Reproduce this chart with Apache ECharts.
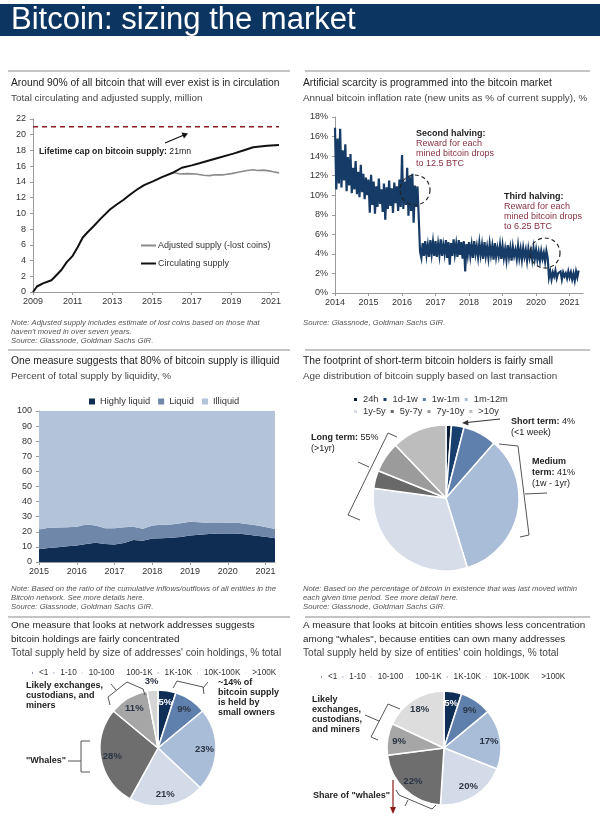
<!DOCTYPE html>
<html><head><meta charset="utf-8">
<script src="https://cdn.jsdelivr.net/npm/echarts@6/dist/echarts.min.js"></script>
<style>html,body{margin:0;padding:0;background:#fff}#c{width:600px;height:826px}</style>
</head><body><div id="c"></div>
<script>
// ---------- DATA ----------
const supplyYears = [2009, 2009.2, 2009.5, 2009.93, 2010.2, 2010.43, 2010.7, 2011, 2011.25, 2011.5, 2011.75, 2012.03, 2012.4, 2012.88, 2013.2, 2013.55, 2013.9, 2014.23, 2014.6, 2015.07, 2015.5, 2016.08, 2016.5, 2017, 2017.43, 2018.27, 2019.1, 2019.6, 2020.1, 2020.45, 2020.8, 2021.4];
const circulatingSupply = [0, 0.7, 1.1, 1.5, 2.2, 2.8, 3.8, 4.6, 5.7, 6.9, 7.6, 8.3, 9.3, 10.5, 11.1, 11.7, 12.4, 13.0, 13.6, 14.1, 14.6, 15.2, 15.8, 16.1, 16.4, 17.0, 17.6, 18.0, 18.4, 18.5, 18.6, 18.7];
const adjustedYears = [2016.08, 2016.4, 2016.8, 2017.2, 2017.6, 2017.9, 2018.2, 2018.6, 2019.0, 2019.4, 2019.8, 2020.1, 2020.3, 2020.6, 2020.9, 2021.1, 2021.4];
const adjustedSupply = [15.2, 15.0, 15.05, 15.0, 14.85, 14.8, 14.9, 14.9, 15.05, 15.25, 15.45, 15.55, 15.45, 15.5, 15.4, 15.3, 15.15];
const supplyCap = 21;
const supplyCapYears = [2009, 2021.4];

const inflationStartYear = 2014;
const inflationPointsPerYear = 26;
const inflationRate = [
  16.9,10.6,15.8,11.2,16.8,10.8,14.6,11.5,15.2,10.4,13.9,11.0,14.2,10.2,12.8,10.6,13.5,10.1,12.4,9.8,13.1,10.3,12.2,9.6,11.8,10.0,
  11.6,8.2,12.1,9.0,11.4,8.1,10.9,8.8,11.7,9.1,10.6,8.3,11.2,7.5,10.8,8.6,11.5,8.9,10.7,8.2,11.3,9.2,10.9,8.4,11.6,8.8,
  14.1,8.6,11.4,9.0,12.8,7.9,11.9,8.4,12.2,7.2,11.0,8.8,10.9,7.6,4.2,3.6,5.1,3.8,5.3,3.9,4.9,3.7,5.4,4.0,5.2,3.8,
  5.3,3.7,5.0,3.9,5.5,3.8,4.9,4.0,5.4,3.6,5.2,2.9,5.1,3.8,5.5,4.0,5.0,3.7,5.4,3.9,5.2,3.5,5.3,2.2,5.0,3.9,
  5.2,3.8,4.9,3.6,5.3,4.0,4.8,3.7,5.1,3.9,4.9,3.5,5.2,3.8,4.7,3.6,5.0,3.9,4.8,3.4,5.1,3.7,4.6,3.8,4.9,3.5,
  4.8,3.6,4.5,3.4,4.9,3.7,4.6,3.3,4.7,3.8,4.4,3.5,4.8,3.6,4.5,3.4,4.6,3.7,4.4,3.3,4.5,3.6,4.3,3.4,4.6,3.5,
  4.4,3.4,4.2,3.3,4.3,3.5,4.1,3.2,4.3,3.6,1.6,2.2,1.4,2.1,1.7,2.3,1.5,2.0,1.8,2.2,1.4,2.1,1.7,2.0,1.5,2.2,
  1.6,2.1,1.4,2.0,1.3,2.2,1.6,2.3
];

const liquidityYears = [2015, 2015.25, 2015.5, 2015.75, 2016, 2016.25, 2016.5, 2016.75, 2017, 2017.25, 2017.5, 2017.75, 2018, 2018.25, 2018.5, 2018.75, 2019, 2019.25, 2019.5, 2019.75, 2020, 2020.25, 2020.5, 2020.75, 2021, 2021.25];
const highlyLiquid = [8.5, 9.2, 9.8, 10.4, 10.9, 12.0, 12.7, 12.0, 11.6, 12.6, 14.6, 14.0, 15.6, 15.8, 16.0, 16.6, 17.6, 18.0, 18.6, 18.8, 18.9, 18.8, 18.2, 17.4, 16.8, 15.8];
const liquid = [13.1, 13.4, 13.0, 12.6, 12.5, 12.8, 11.5, 10.4, 10.7, 10.4, 8.8, 8.0, 8.6, 8.8, 8.8, 9.0, 9.0, 8.4, 7.3, 7.0, 7.1, 7.2, 7.0, 7.0, 6.4, 6.0];
const illiquid = [78.4, 77.4, 77.2, 77.0, 76.6, 75.2, 75.8, 77.6, 77.7, 77.0, 76.6, 78.0, 75.8, 75.4, 75.2, 74.4, 73.4, 73.6, 74.1, 74.2, 74.0, 74.0, 74.8, 75.6, 76.8, 78.2];

const ageLabels = ['24h', '1d-1w', '1w-1m', '1m-12m', '1y-5y', '5y-7y', '7y-10y', '>10y'];
const ageShares = [1.2, 2.8, 7.5, 34, 32, 4, 6.8, 12.2];

const sizeLabels = ['<1', '1-10', '10-100', '100-1K', '1K-10K', '10K-100K', '>100K'];
const addressShares = [5, 9, 23, 21, 28, 11, 3];
const entityShares = [5, 9, 17, 20, 22, 9, 18];

// ---------- STYLE ----------
const FONT = '"Liberation Sans", Arial, sans-serif';
const NAVY = '#163b66';
const ageColors = ['#0a1d36', '#173f6e', '#5f80ad', '#a9bcd8', '#d8dee9', '#696969', '#9b9b9b', '#bdbdbd'];
const sizeColors = ['#0f2f57', '#5f80ad', '#a9bcd8', '#d3dbe8', '#6e6e6e', '#a6a6a6', '#d4d4d4'];
const sizeColors6 = ['#0f2f57', '#5f80ad', '#a9bcd8', '#d3dbe8', '#6e6e6e', '#a6a6a6', '#dddddd'];

function txt(x, y, text, o) {
  return { type: 'text', x: x, y: y, silent: true, z: 100,
    style: Object.assign({ text: text, fill: '#222', fontSize: 9.5, fontFamily: FONT, verticalAlign: 'middle', align: 'left' }, o || {}) };
}
function poly(points, o) {
  return { type: 'polyline', silent: true, z: 100, shape: { points: points }, style: Object.assign({ stroke: '#555', lineWidth: 1, fill: null }, o || {}) };
}
function arrowHead(points, color) {
  return { type: 'polygon', silent: true, z: 100, shape: { points: points }, style: { fill: color } };
}
const boldRich = (fs) => ({ b: { fontWeight: 'bold', fontSize: fs, fontFamily: FONT, fill: '#222' } });

const TT = { fontSize: 10.3, fill: '#1e1e1e' };          // top titles
const TS = { fontSize: 9.9, fill: '#454545' };           // top subtitles
const BT = { fontSize: 9.9, fill: '#1e1e1e' };           // bottom titles
const BS = { fontSize: 10.1, fill: '#454545' };          // bottom subtitles
const NT = { fontSize: 7.7, fill: '#555', fontStyle: 'italic' };
const RED = '#8a3040';
const AB = { fontSize: 9, fontWeight: 'bold', fill: '#222' };

const graphics = [
  { type: 'rect', silent: true, shape: { x: 0, y: 4, width: 600, height: 32 }, style: { fill: '#0d3562' } },
  txt(11, 20.5, 'Bitcoin: sizing the market', { fontSize: 31, fill: '#ffffff' }),
  // separators
  poly([[8, 71], [290, 71]], { stroke: '#8a8a8a' }), poly([[305, 71], [590, 71]], { stroke: '#8a8a8a' }),
  poly([[8, 350], [290, 350]], { stroke: '#8a8a8a' }), poly([[305, 350], [590, 350]], { stroke: '#8a8a8a' }),
  poly([[8, 617], [290, 617]], { stroke: '#8a8a8a' }), poly([[305, 617], [590, 617]], { stroke: '#8a8a8a' }),
  // panel 1
  txt(11, 83, 'Around 90% of all bitcoin that will ever exist is in circulation', TT),
  txt(11, 98, 'Total circulating and adjusted supply, million', TS),
  txt(39, 152, '{b|Lifetime cap on bitcoin supply:} 21mn', { fontSize: 8.7, rich: boldRich(8.7) }),
  poly([[165, 143], [184, 135]], { stroke: '#111', lineWidth: 1.2 }),
  arrowHead([[188, 133.5], [181.5, 132.5], [184, 138.5]], '#111'),
  txt(11, 323, 'Note: Adjusted supply includes estimate of lost coins based on those that', NT),
  txt(11, 332, "haven't moved in over seven years.", NT),
  txt(11, 341, 'Source: Glassnode, Goldman Sachs GIR.', NT),
  // panel 2
  txt(303, 83, 'Artificial scarcity is programmed into the bitcoin market', TT),
  txt(303, 98, 'Annual bitcoin inflation rate (new units as % of current supply), %', TS),
  { type: 'circle', silent: true, z: 100, shape: { cx: 415, cy: 190, r: 15 }, style: { stroke: '#222', fill: null, lineWidth: 1.2, lineDash: [4, 3] } },
  { type: 'circle', silent: true, z: 100, shape: { cx: 545, cy: 253, r: 15 }, style: { stroke: '#222', fill: null, lineWidth: 1.2, lineDash: [4, 3] } },
  txt(416, 134, 'Second halving:', AB),
  txt(416, 144, 'Reward for each', { fontSize: 9, fill: RED }),
  txt(416, 154, 'mined bitcoin drops', { fontSize: 9, fill: RED }),
  txt(416, 164, 'to 12.5 BTC', { fontSize: 9, fill: RED }),
  txt(504, 197, 'Third halving:', AB),
  txt(504, 207, 'Reward for each', { fontSize: 9, fill: RED }),
  txt(504, 217, 'mined bitcoin drops', { fontSize: 9, fill: RED }),
  txt(504, 227, 'to 6.25 BTC', { fontSize: 9, fill: RED }),
  txt(303, 323, 'Source: Glassnode, Goldman Sachs GIR.', NT),
  // panel 3
  txt(11, 361, 'One measure suggests that 80% of bitcoin supply is illiquid', TT),
  txt(11, 376, 'Percent of total supply by liquidity, %', TS),
  txt(11, 589, 'Note: Based on the ratio of the cumulative inflows/outflows of all entities in the', NT),
  txt(11, 598, 'Bitcoin network. See more details here.', NT),
  txt(11, 607, 'Source: Glassnode, Goldman Sachs GIR.', NT),
  // panel 4
  txt(303, 361, 'The footprint of short-term bitcoin holders is fairly small', TT),
  txt(303, 376, 'Age distribution of bitcoin supply based on last transaction', TS),
  txt(511, 422, '{b|Short term:} 4%', { fontSize: 9, rich: boldRich(9) }),
  txt(511, 433, '(<1 week)', { fontSize: 9 }),
  poly([[500, 419], [467, 422.5]], { stroke: '#333' }),
  arrowHead([[462, 423], [468, 420], [468.5, 425.5]], '#333'),
  txt(311, 438, '{b|Long term:} 55%', { fontSize: 9, rich: boldRich(9) }),
  txt(311, 449, '(>1yr)', { fontSize: 9 }),
  poly([[397, 437], [388, 433], [348, 515], [360, 520]], { stroke: '#555' }),
  poly([[358, 462], [369, 467]], { stroke: '#555' }),
  txt(532, 462, 'Medium', AB),
  txt(532, 473, '{b|term:} 41%', { fontSize: 9, rich: boldRich(9) }),
  txt(532, 484, '(1w - 1yr)', { fontSize: 9 }),
  poly([[499, 444], [518, 446], [529, 535], [520, 537]], { stroke: '#555' }),
  poly([[525, 494], [547, 493]], { stroke: '#555' }),
  txt(303, 589, 'Note: Based on the percentage of bitcoin in existence that was last moved within', NT),
  txt(303, 598, 'each given time period. See more detail here.', NT),
  txt(303, 607, 'Source: Glassnode, Goldman Sachs GIR.', NT),
  // panel 5
  txt(11, 625, 'One measure that looks at network addresses suggests', BT),
  txt(11, 639, 'bitcoin holdings are fairly concentrated', BT),
  txt(11, 653, "Total supply held by size of addresses' coin holdings, % total", BS),
  txt(26, 686, 'Likely exchanges,', AB),
  txt(26, 696, 'custodians, and', AB),
  txt(26, 706, 'miners', AB),
  poly([[110, 705], [108, 697], [127, 682], [143, 689], [145, 695]], { stroke: '#555' }),
  poly([[116, 690], [111, 684]], { stroke: '#555' }),
  txt(218, 683, '~14% of', AB),
  txt(218, 693, 'bitcoin supply', AB),
  txt(218, 703, 'is held by', AB),
  txt(218, 713, 'small owners', AB),
  poly([[173, 688], [177, 681], [203, 687], [204, 694]], { stroke: '#555' }),
  poly([[203, 688], [208, 682]], { stroke: '#555' }),
  txt(26, 761, '"Whales"', AB),
  poly([[90, 741], [81, 741], [81, 772], [90, 772]], { stroke: '#555' }),
  poly([[68, 761], [81, 761]], { stroke: '#555' }),
  // panel 6
  txt(303, 625, 'A measure that looks at bitcoin entities shows less concentration', BT),
  txt(303, 639, 'among "whales", because entities can own many addresses', BT),
  txt(303, 653, "Total supply held by size of entities' coin holdings, % total", BS),
  txt(312, 700, 'Likely', AB),
  txt(312, 710, 'exchanges,', AB),
  txt(312, 720, 'custodians,', AB),
  txt(312, 730, 'and miners', AB),
  poly([[400, 709], [388, 704], [371, 737], [378, 740]], { stroke: '#555' }),
  poly([[379, 721], [365, 715]], { stroke: '#555' }),
  txt(313, 796, 'Share of "whales"', AB),
  poly([[393, 780], [393, 808]], { stroke: '#8b1a1a', lineWidth: 1.2 }),
  arrowHead([[393, 814], [390, 807], [396, 807]], '#8b1a1a'),
  poly([[396, 790], [399, 795], [432, 809], [436, 805]], { stroke: '#555' }),
  poly([[408, 800], [405, 806]], { stroke: '#555' })
];

const axisLineStyle = { show: true, lineStyle: { color: '#9a9a9a', width: 1 } };
const axisTickStyle = { show: true, length: 3, lineStyle: { color: '#9a9a9a' } };
const labelStyle = { color: '#333', fontSize: 9, fontFamily: FONT };
const intLabel = (v) => (Math.abs(v - Math.round(v)) < 1e-6 ? String(Math.round(v)) : '');
const isYearStart = (i, v) => Math.abs(Number(v) - Math.round(Number(v))) < 1e-6;

function pieLabelSeries(center, r0, r, shares, showIdx) {
  return {
    type: 'pie', silent: true, center: center, radius: [r0, r], startAngle: 90, clockwise: true,
    itemStyle: { color: 'rgba(0,0,0,0)', borderWidth: 0 }, labelLine: { show: false },
    emphasis: { disabled: true },
    data: shares.map((v, i) => ({ name: 'lbl' + r0 + '_' + i, value: v,
      label: { show: showIdx(i), position: 'inside', formatter: '{c}%', fontSize: 9.5, fontWeight: 'bold', fontFamily: FONT,
        color: i === 0 ? '#ffffff' : '#2b3545' } }))
  };
}
const legendText = { color: '#333', fontSize: 9.3, fontFamily: FONT };
const sizeLegendText = { color: '#333', fontSize: 8.2, fontFamily: FONT };

const option = {
  animation: false,
  textStyle: { fontFamily: FONT },
  graphic: graphics,
  legend: [
    { data: ['Adjusted supply (-lost coins)', 'Circulating supply'], orient: 'vertical', left: 136, top: 236, itemGap: 9,
      icon: 'rect', itemWidth: 15, itemHeight: 2, selectedMode: false,
      textStyle: Object.assign({}, legendText, { fontSize: 9, padding: [0, 0, 0, -3] }) },
    { data: ['Highly liquid', 'Liquid', 'Illiquid'], left: 84, top: 392, itemGap: 8, icon: 'rect', itemWidth: 6, itemHeight: 6,
      selectedMode: false, textStyle: legendText },
    { data: ageLabels.slice(0, 4), left: 347, top: 390, itemGap: 3, icon: 'rect', itemWidth: 5, itemHeight: 5,
      selectedMode: false, textStyle: Object.assign({}, legendText, { width: 37 }) },
    { data: ageLabels.slice(4), left: 347, top: 402, itemGap: 3, icon: 'rect', itemWidth: 5, itemHeight: 5,
      selectedMode: false, textStyle: Object.assign({}, legendText, { width: 37 }) },
    { data: sizeLabels, left: 25, top: 664, width: 290, itemGap: 3, icon: 'rect', itemWidth: 3, itemHeight: 3,
      selectedMode: false, textStyle: sizeLegendText },
    { data: sizeLabels, left: 314, top: 668, width: 285, itemGap: 3, icon: 'rect', itemWidth: 3, itemHeight: 3,
      selectedMode: false, textStyle: sizeLegendText }
  ],
  grid: [
    { left: 33, top: 119, width: 246, height: 173 },
    { left: 335, top: 117, width: 248, height: 176 },
    { left: 39, top: 411, width: 236, height: 151 }
  ],
  xAxis: [
    { gridIndex: 0, type: 'value', min: 2009, max: 2021.4, interval: 2, axisLine: axisLineStyle, axisTick: axisTickStyle,
      splitLine: { show: false }, axisLabel: Object.assign({ margin: 5, showMaxLabel: false, formatter: intLabel }, labelStyle) },
    { gridIndex: 1, type: 'value', min: 2014, max: 2021.4, interval: 1, axisLine: axisLineStyle, axisTick: axisTickStyle,
      splitLine: { show: false }, axisLabel: Object.assign({ margin: 5, showMaxLabel: false, formatter: intLabel }, labelStyle) },
    { gridIndex: 2, type: 'category', data: liquidityYears.map(String), boundaryGap: false, axisLine: axisLineStyle,
      axisTick: Object.assign({}, axisTickStyle, { interval: isYearStart }),
      splitLine: { show: false }, axisLabel: Object.assign({ margin: 5, interval: isYearStart }, labelStyle) }
  ],
  yAxis: [
    { gridIndex: 0, type: 'value', min: 0, max: 22, interval: 2, axisLine: axisLineStyle, axisTick: axisTickStyle,
      splitLine: { show: false }, axisLabel: Object.assign({ margin: 7 }, labelStyle) },
    { gridIndex: 1, type: 'value', min: 0, max: 18, interval: 2, axisLine: axisLineStyle, axisTick: axisTickStyle,
      splitLine: { show: false }, axisLabel: Object.assign({ margin: 7, formatter: '{value}%' }, labelStyle) },
    { gridIndex: 2, type: 'value', min: 0, max: 100, interval: 10, axisLine: axisLineStyle, axisTick: axisTickStyle,
      splitLine: { show: false }, axisLabel: Object.assign({ margin: 7 }, labelStyle) }
  ],
  series: [
    { name: 'Lifetime cap', type: 'line', xAxisIndex: 0, yAxisIndex: 0, symbol: 'none', silent: true,
      data: supplyCapYears.map((y) => [y, supplyCap]), lineStyle: { color: '#8e1b1f', width: 1.5, type: [5, 4] }, itemStyle: { color: '#8e1b1f' } },
    { name: 'Adjusted supply (-lost coins)', type: 'line', xAxisIndex: 0, yAxisIndex: 0, symbol: 'none', silent: true,
      data: adjustedYears.map((y, i) => [y, adjustedSupply[i]]), lineStyle: { color: '#8c8c8c', width: 1.6 }, itemStyle: { color: '#8c8c8c' } },
    { name: 'Circulating supply', type: 'line', xAxisIndex: 0, yAxisIndex: 0, symbol: 'none', silent: true,
      data: supplyYears.map((y, i) => [y, circulatingSupply[i]]), lineStyle: { color: '#111', width: 2 }, itemStyle: { color: '#111' } },
    { name: 'Inflation', type: 'line', xAxisIndex: 1, yAxisIndex: 1, symbol: 'none', silent: true,
      data: inflationRate.map((v, i) => [inflationStartYear + i / inflationPointsPerYear, v]),
      lineStyle: { color: NAVY, width: 2.2, join: 'miter' }, itemStyle: { color: NAVY } },
    { name: 'Highly liquid', type: 'line', xAxisIndex: 2, yAxisIndex: 2, stack: 'liq', symbol: 'none', silent: true,
      data: highlyLiquid, lineStyle: { width: 0 }, areaStyle: { color: '#0f2d52', opacity: 1 }, itemStyle: { color: '#0f2d52' } },
    { name: 'Liquid', type: 'line', xAxisIndex: 2, yAxisIndex: 2, stack: 'liq', symbol: 'none', silent: true,
      data: liquid, lineStyle: { width: 0 }, areaStyle: { color: '#6f88aa', opacity: 1 }, itemStyle: { color: '#6f88aa' } },
    { name: 'Illiquid', type: 'line', xAxisIndex: 2, yAxisIndex: 2, stack: 'liq', symbol: 'none', silent: true,
      data: illiquid, lineStyle: { width: 0 }, areaStyle: { color: '#b3c3d9', opacity: 1 }, itemStyle: { color: '#b3c3d9' } },
    { name: 'Age', type: 'pie', center: [446, 498], radius: 73, startAngle: 90, clockwise: true, silent: true,
      label: { show: false }, labelLine: { show: false }, emphasis: { disabled: true },
      itemStyle: { borderColor: '#fff', borderWidth: 1.5 },
      data: ageLabels.map((n, i) => ({ name: n, value: ageShares[i], itemStyle: { color: ageColors[i] } })) },
    { name: 'Addresses', type: 'pie', center: [158, 748], radius: 58, startAngle: 90, clockwise: true, silent: true,
      label: { show: false }, labelLine: { show: false }, emphasis: { disabled: true },
      itemStyle: { borderColor: '#fff', borderWidth: 1.5 },
      data: sizeLabels.map((n, i) => ({ name: n, value: addressShares[i], itemStyle: { color: sizeColors[i] } })) },
    { name: 'Entities', type: 'pie', center: [444, 748], radius: 57, startAngle: 90, clockwise: true, silent: true,
      label: { show: false }, labelLine: { show: false }, emphasis: { disabled: true },
      itemStyle: { borderColor: '#fff', borderWidth: 1.5 },
      data: sizeLabels.map((n, i) => ({ name: n, value: entityShares[i], itemStyle: { color: sizeColors6[i] } })) },
    pieLabelSeries([158, 748], 29, 58, addressShares, (i) => i !== 6),
    pieLabelSeries([158, 748], 58, 70, addressShares, (i) => i === 6),
    pieLabelSeries([444, 748], 28, 57, entityShares, () => true)
  ]
};

const chart = echarts.init(document.getElementById('c'), null, { renderer: 'canvas', width: 600, height: 826 });
chart.setOption(option);
</script>
</body></html>
